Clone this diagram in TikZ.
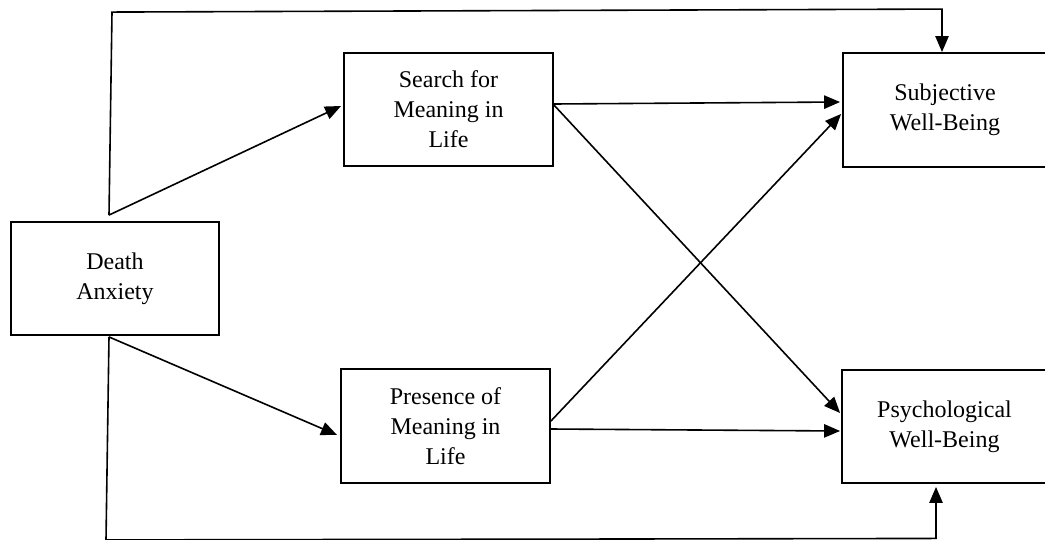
\documentclass[tikz,border=0pt]{standalone}
\usepackage{fontspec}
\setmainfont{Liberation Serif}
\usetikzlibrary{arrows.meta}
\begin{document}
\begin{tikzpicture}[x=0.75pt,y=-0.75pt,
  box/.style={draw,line width=1.4pt,rectangle,align=center,inner sep=0pt,
    font=\fontsize{18}{22.5}\selectfont},
  link/.style={line width=1.2pt,-{Triangle[length=12pt,width=10pt]}}]
\useasboundingbox (0,0) rectangle (1045,539);

% variables
\node[box,minimum width=156pt,minimum height=84.75pt] (death) at (115,278.5) {Death\\Anxiety};
\node[box,minimum width=156.75pt,minimum height=84.75pt] (search) at (448.5,109.5) {Search for\\Meaning in\\Life};
\node[box,minimum width=156.75pt,minimum height=85.5pt] (presence) at (445.5,426) {Presence of\\Meaning in\\Life};
\node[box,minimum width=153pt,minimum height=85.5pt] (swb) at (945,110) {Subjective\\Well-Being};
\node[box,minimum width=153.75pt,minimum height=84.75pt] (pwb) at (944.5,426.5) {Psychological\\Well-Being};

% branch points just outside the predictor box
\coordinate (dA) at ([shift={(-6,-6)}]death.north);
\coordinate (dB) at ([shift={(-6,1)}]death.south);

% direct paths to the mediators
\draw[link] (dA) -- ([shift={(-2,-3.5)}]search.west);
\draw[link] (dB) -- ([shift={(-3,9)}]presence.west);

% direct paths to the outcomes around the outside
\draw[link] (dA) -- ++(3,-203) -- ([shift={(-3,-43)}]swb.north) -- ([shift={(-3,0)}]swb.north);
\draw[link] (dB) -- ++(-3,203) -- ([shift={(-8.5,54.5)}]pwb.south) -- ([shift={(-8.5,3)}]pwb.south);

% mediators to outcomes
\draw[link] ([shift={(0,-5.5)}]search.east) -- ([shift={(-2,-8)}]swb.west);
\draw[link] ([shift={(0,-4.5)}]search.east) -- ([shift={(-1,-13.5)}]pwb.west);
\draw[link] ([shift={(0,-5)}]presence.east) -- ([shift={(-1,4)}]swb.west);
\draw[link] ([shift={(0,3)}]presence.east) -- ([shift={(-1,4.5)}]pwb.west);
\end{tikzpicture}
\end{document}
